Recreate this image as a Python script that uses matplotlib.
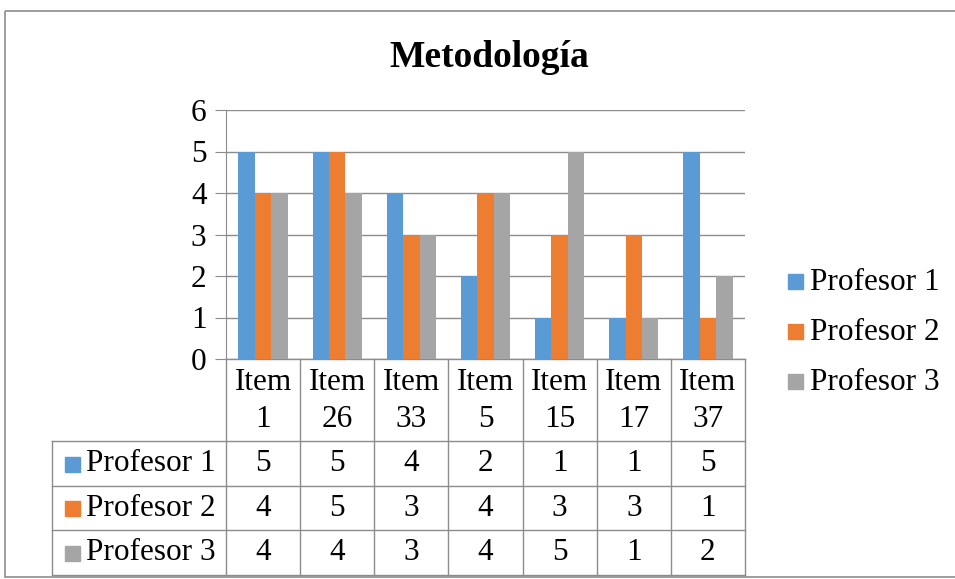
import matplotlib
matplotlib.use("Agg")
from matplotlib import pyplot as plt
from matplotlib.patches import Rectangle
import numpy as np

plt.rcParams['font.family'] = ['Liberation Serif', 'DejaVu Serif']

# data
CATEGORIES = ["Item\n1", "Item\n26", "Item\n33", "Item\n5", "Item\n15", "Item\n17", "Item\n37"]
SERIES = ["Profesor 1", "Profesor 2", "Profesor 3"]
PROF1 = [5, 5, 4, 2, 1, 1, 5]
PROF2 = [4, 5, 3, 4, 3, 3, 1]
PROF3 = [4, 4, 3, 4, 5, 1, 2]
COLORS = ["#5B9BD5", "#ED7D31", "#A5A5A5"]

W, H = 955, 579
fig = plt.figure(figsize=(W / 100, H / 100), dpi=100)

# overlay axes in pixel coordinates for border, table and legend
ov = fig.add_axes([0, 0, 1, 1])
ov.set_xlim(0, W)
ov.set_ylim(H, 0)
ov.axis("off")
ov.add_patch(Rectangle((5, 11), 960, 566, fill=False, edgecolor="#8c8c8c", lw=1.2))

# plot area
x0, x1, ytop, ybot = 226, 745, 110, 359
ax = fig.add_axes([x0 / W, 1 - ybot / H, (x1 - x0) / W, (ybot - ytop) / H])
ax.patch.set_alpha(0)
n = len(CATEGORIES)
x = np.arange(n)
bw = 0.222
for k, (vals, c) in enumerate(zip([PROF1, PROF2, PROF3], COLORS)):
    ax.bar(x + (k - 1) * bw, vals, bw, color=c, zorder=3, label=SERIES[k])
ax.set_xlim(-0.5, n - 0.5)
ax.set_ylim(0, 6)
ax.set_yticks(range(7))
ax.yaxis.grid(True, color="#8c8c8c", lw=1)
ax.set_axisbelow(True)
ax.set_xticks([])
for s in ["top", "right", "bottom"]:
    ax.spines[s].set_visible(False)
ax.spines["left"].set_color("#8c8c8c")
ax.tick_params(axis="y", length=8, color="#8c8c8c", labelsize=22.5, pad=6)
ax.set_title("Metodología", fontsize=27, fontweight="bold", pad=31, x=0.5 + 4 / (x1 - x0))

# data table
colw = (x1 - x0) / n
rows = [359, 441, 486, 530, 575]
left = 52
lc = "#8c8c8c"
# horizontal lines
ov.plot([x0, x1], [rows[0], rows[0]], color=lc, lw=1)
for y in rows[1:]:
    ov.plot([left, x1], [y, y], color=lc, lw=1)
# vertical lines
ov.plot([left, left], [rows[1], rows[-1]], color=lc, lw=1)
for k in range(n + 1):
    xx = x0 + k * colw
    ov.plot([xx, xx], [rows[0], rows[-1]], color=lc, lw=1)
for k, cat in enumerate(CATEGORIES):
    ov.text(x0 + (k + 0.5) * colw, (rows[0] + rows[1]) / 2 + 1, cat, ha="center", va="center",
            fontsize=22.5, linespacing=1.35)
for r, (name, vals, c) in enumerate(zip(SERIES, [PROF1, PROF2, PROF3], COLORS)):
    yc = (rows[r + 1] + rows[r + 2]) / 2
    ov.add_patch(Rectangle((65, yc - 7), 15, 15, color=c))
    ov.text(86, yc, name, ha="left", va="center", fontsize=22.5)
    for k, v in enumerate(vals):
        ov.text(x0 + (k + 0.5) * colw, yc, str(v), ha="center", va="center", fontsize=22.5)

# legend
for k, (name, c) in enumerate(zip(SERIES, COLORS)):
    yc = 282 + 50 * k
    ov.add_patch(Rectangle((788, yc - 8), 15, 15, color=c))
    ov.text(810, yc, name, ha="left", va="center", fontsize=22.5)

fig.savefig("out.png", dpi=100)
